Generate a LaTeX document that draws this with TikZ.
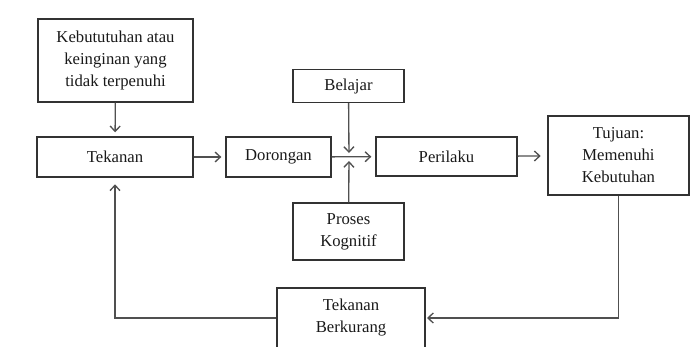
\documentclass[tikz,border=0pt]{standalone}
\usepackage{fontspec}
\setmainfont{Liberation Serif}
\usetikzlibrary{arrows.meta}

\tikzset{every picture/.style={line width=0.75pt}}
\tikzset{
  box/.style={draw={rgb,255:red,50;green,50;blue,50}, line width=1pt, inner sep=0pt, align=center,
    font=\fontsize{12.5}{16.5}\selectfont, text={rgb,255:red,25;green,25;blue,25}},
  link/.style={draw={rgb,255:red,80;green,80;blue,80}, line width=1pt, -{Straight Barb[length=4pt,width=7.5pt]}},
  plain/.style={draw={rgb,255:red,80;green,80;blue,80}, line width=1pt}
}

\begin{document}
\begin{tikzpicture}[x=0.75pt,y=0.75pt,yscale=-1,xscale=1]
\useasboundingbox (0,0) rectangle (699,346);

% Boxes
\node [box, minimum width=155*0.75pt, minimum height=83*0.75pt] (need) at (115.5,60.5) {Kebututuhan atau\\keinginan yang\\tidak terpenuhi};
\node [box, minimum width=156*0.75pt, minimum height=40*0.75pt] (tekanan) at (115,157) {Tekanan};
\node [box, minimum width=105*0.75pt, minimum height=40*0.75pt] (dorongan) at (278.5,157) {Dorongan};
\node [box, minimum width=111*0.75pt, minimum height=33*0.75pt] (belajar) at (348.5,86) {Belajar};
\node [box, minimum width=111*0.75pt, minimum height=57*0.75pt] (proses) at (348.5,231.5) {Proses\\Kognitif};
\node [box, minimum width=141*0.75pt, minimum height=39*0.75pt] (perilaku) at (446.5,156.5) {Perilaku};
\node [box, minimum width=141*0.75pt, minimum height=79*0.75pt] (tujuan) at (618.5,155.5) {Tujuan:\\Memenuhi\\Kebutuhan};
\node [box, minimum width=148*0.75pt, minimum height=60*0.75pt] (berkurang) at (351,318) {Tekanan\\Berkurang};

% Junction
\coordinate (j) at (349,157);

% Connectors
\draw [link, shorten >=3pt] (need) -- (tekanan);
\draw [link, shorten >=3pt] (tekanan) -- (dorongan);
\draw [link, shorten >=3pt] (dorongan) -- (perilaku);
\draw [link, shorten >=3pt] (belajar) -- (j);
\draw [link, shorten >=3pt] (proses) -- (j);
\draw [link, shorten >=5pt] (perilaku) -- (tujuan);
\draw [link, shorten >=1pt] (tujuan.south) |- (berkurang.east);
\draw [link, shorten >=5pt] (berkurang.west) -| (tekanan.south);

\end{tikzpicture}
\end{document}
